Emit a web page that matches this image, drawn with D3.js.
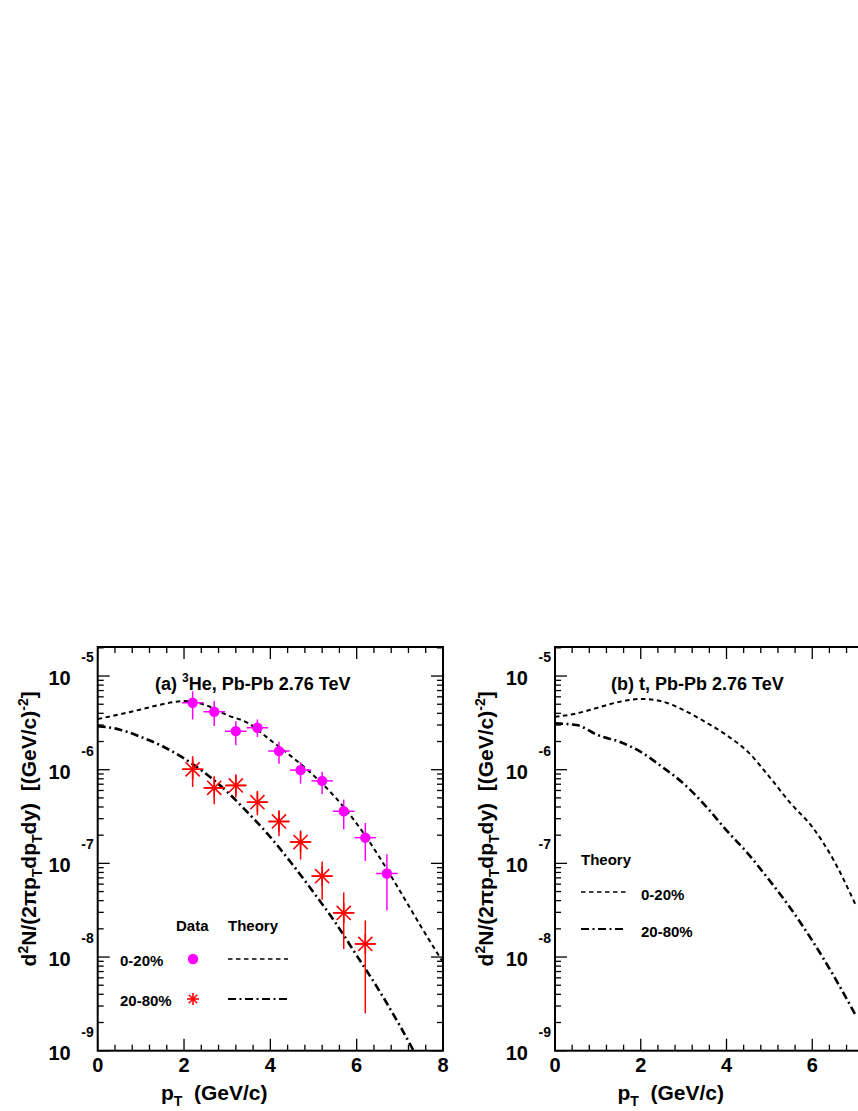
<!DOCTYPE html>
<html><head><meta charset="utf-8">
<script src="https://cdn.jsdelivr.net/npm/d3@7"></script>
<style>body{margin:0;background:#fff}svg{display:block}text{font-family:"Liberation Sans",Arial,sans-serif;font-weight:bold}</style>
</head><body>
<svg id="c" width="858" height="1111"></svg>
<script>
// Data (He-3, panel a)
const dataX = [2.2,2.7,3.2,3.7,4.2,4.7,5.2,5.7,6.2,6.7];
const central_y = [5.18e-6,4.15e-6,2.58e-6,2.8e-6,1.58e-6,9.9e-7,7.6e-7,3.6e-7,1.88e-7,7.8e-8];
const central_hi = [6.9e-6,5.4e-6,3.3e-6,3.44e-6,1.99e-6,1.21e-6,9.5e-7,4.8e-7,2.7e-7,1.25e-7];
const central_lo = [3.44e-6,2.92e-6,1.82e-6,2.24e-6,1.16e-6,7.1e-7,5.5e-7,2.31e-7,1.06e-7,3.14e-8];
const periX = [2.2,2.7,3.2,3.7,4.2,4.7,5.2,5.7,6.2];
const peri_y = [1.01e-6,6.4e-7,6.8e-7,4.5e-7,2.8e-7,1.69e-7,7.3e-8,2.96e-8,1.38e-8];
const peri_hi = [1.39e-6,8.5e-7,8.95e-7,5.94e-7,3.69e-7,2.25e-7,1.05e-7,4.9e-8,2.46e-8];
const peri_lo = [6.55e-7,4.28e-7,5.05e-7,3.26e-7,1.95e-7,1.10e-7,4.09e-8,1.22e-8,2.5e-9];
const binHalf = 0.25;
// Theory curves
const thX_a = [0,0.5,1,1.5,2,2.5,3,3.5,4,4.5,5,5.5,6,6.5,7,7.5,8];
const thA_central = [3.47e-6,3.9e-6,4.4e-6,5.0e-6,5.4e-6,4.9e-6,3.83e-6,3.12e-6,2.07e-6,1.37e-6,8.7e-7,5.1e-7,2.66e-7,1.22e-7,5.1e-8,2.08e-8,8.8e-9];
const thA_peri = [2.92e-6,2.69e-6,2.24e-6,1.78e-6,1.32e-6,9.1e-7,5.8e-7,3.4e-7,1.91e-7,9.9e-8,4.9e-8,2.36e-8,1.04e-8,4.55e-9,1.85e-9,7e-10,2.6e-10];
const thX_b = [0,0.5,1,1.5,2,2.5,3,3.5,4,4.5,5,5.5,6,6.5,7];
const thB_central = [3.67e-6,3.98e-6,4.6e-6,5.3e-6,5.7e-6,5.35e-6,4.33e-6,3.25e-6,2.34e-6,1.55e-6,8.4e-7,4.35e-7,2.45e-7,1.08e-7,3.7e-8];
const thB_peri = [3.12e-6,3.0e-6,2.34e-6,1.99e-6,1.55e-6,1.07e-6,7.1e-7,4.17e-7,2.25e-7,1.27e-7,6.6e-8,3.28e-8,1.5e-8,6.3e-9,2.45e-9];
const xTicks = [0,2,4,6,8];
const yDecades = [-9,-8,-7,-6,-5];

const svg = d3.select("#c");
const PT = 647, PB = 1050.7;
const y = d3.scaleLog().domain([1e-9, Math.pow(10,-4.69)]).range([PB, PT]);
const MAG = "#ff00ff", RED = "#ff0000";
const DASH = "4.5,3.5", DASHDOT = "8,3.5,2,3.5";

function panel(x0, x1, id, curves){
  const x = d3.scaleLinear().domain([0,8]).range([x0,x1]);
  const g = svg.append("g");
  const cp = "clip"+id;
  svg.append("clipPath").attr("id",cp).append("rect").attr("x",x0).attr("y",PT).attr("width",x1-x0).attr("height",PB-PT);
  const tg = g.append("g").attr("stroke","#000").attr("stroke-width",1.3);
  d3.range(0,8.001,0.4).forEach(v=>{
    const major = Math.abs(v/2-Math.round(v/2))<1e-6;
    const L = major?12:6;
    tg.append("line").attr("x1",x(v)).attr("x2",x(v)).attr("y1",PB).attr("y2",PB-L);
    tg.append("line").attr("x1",x(v)).attr("x2",x(v)).attr("y1",PT).attr("y2",PT+L);
  });
  yDecades.forEach(d=>{
    for(let m=1;m<=9;m++){
      const v = m*Math.pow(10,d);
      if(v>y.domain()[1]) continue;
      const L = m===1?12:6;
      tg.append("line").attr("x1",x0).attr("x2",x0+L).attr("y1",y(v)).attr("y2",y(v));
      tg.append("line").attr("x1",x1).attr("x2",x1-L).attr("y1",y(v)).attr("y2",y(v));
    }
    g.append("text").attr("x",x0-27).attr("y",y(Math.pow(10,d))+9).attr("text-anchor","end").attr("font-size",20).text("10");
    g.append("text").attr("x",x0-4).attr("y",y(Math.pow(10,d))-14).attr("text-anchor","end").attr("font-size",14).text(d);
  });
  xTicks.forEach(v=>{
    g.append("text").attr("x",x(v)).attr("y",1072).attr("text-anchor","middle").attr("font-size",20).text(v);
  });
  g.append("rect").attr("x",x0).attr("y",PT).attr("width",x1-x0).attr("height",PB-PT).attr("fill","none").attr("stroke","#000").attr("stroke-width",2);
  const xt = g.append("text").attr("x",x(2.7)).attr("y",1100).attr("font-size",21).attr("text-anchor","middle");
  xt.append("tspan").text("p");
  xt.append("tspan").attr("font-size",14).attr("dy",6).text("T");
  xt.append("tspan").attr("dy",-6).text("\u00a0 (GeV/c)");
  const yt = g.append("text").attr("transform",`translate(${x0-62},${(PT+PB)/2-20}) rotate(-90)`).attr("font-size",21).attr("text-anchor","middle");
  yt.append("tspan").text("d");
  yt.append("tspan").attr("font-size",14).attr("dy",-8).text("2");
  yt.append("tspan").attr("dy",8).text("N/(2\u03c0p");
  yt.append("tspan").attr("font-size",14).attr("dy",6).text("T");
  yt.append("tspan").attr("dy",-6).text("dp");
  yt.append("tspan").attr("font-size",14).attr("dy",6).text("T");
  yt.append("tspan").attr("dy",-6).text("dy)\u00a0\u00a0[(GeV/c)");
  yt.append("tspan").attr("font-size",14).attr("dy",-8).text("-2");
  yt.append("tspan").attr("dy",8).text("]");
  const line = d3.line().x(d=>x(d[0])).y(d=>y(d[1])).curve(d3.curveMonotoneX);
  const cg = g.append("g").attr("clip-path",`url(#${cp})`);
  curves.forEach(c=>{
    cg.append("path").attr("d",line(c.xs.map((v,i)=>[v,c.ys[i]]))).attr("fill","none").attr("stroke","#000")
      .attr("stroke-width",c.w).attr("stroke-dasharray",c.dash);
  });
  return {g, x, cg};
}

const A = panel(97.7, 443, "a", [
  {xs:thX_a, ys:thA_central, dash:DASH, w:2},
  {xs:thX_a, ys:thA_peri, dash:DASHDOT, w:2.6}
]);
const B = panel(555, 898, "b", [
  {xs:thX_b, ys:thB_central, dash:DASH, w:2},
  {xs:thX_b, ys:thB_peri, dash:DASHDOT, w:2.6}
]);

const ta = A.g.append("text").attr("x",155).attr("y",690).attr("font-size",18);
ta.append("tspan").text("(a) ");
ta.append("tspan").attr("font-size",12).attr("dy",-8).text("3");
ta.append("tspan").attr("dy",8).text("He, Pb-Pb 2.76 TeV");
B.g.append("text").attr("x",611).attr("y",690).attr("font-size",18).text("(b) t, Pb-Pb 2.76 TeV");

function star(g, cx, cy, r, col){
  for(let k=0;k<4;k++){
    const a = k*Math.PI/4;
    g.append("line").attr("x1",cx-r*Math.cos(a)).attr("x2",cx+r*Math.cos(a))
      .attr("y1",cy-r*Math.sin(a)).attr("y2",cy+r*Math.sin(a)).attr("stroke",col).attr("stroke-width",1.6);
  }
}
const dg = A.g.append("g").attr("clip-path","url(#clipa)");
periX.forEach((v,i)=>{
  dg.append("line").attr("x1",A.x(v)).attr("x2",A.x(v)).attr("y1",y(peri_lo[i])).attr("y2",y(peri_hi[i])).attr("stroke",RED).attr("stroke-width",1.5);
  dg.append("line").attr("x1",A.x(v-binHalf)).attr("x2",A.x(v+binHalf)).attr("y1",y(peri_y[i])).attr("y2",y(peri_y[i])).attr("stroke",RED).attr("stroke-width",1.5);
  star(dg, A.x(v), y(peri_y[i]), 10, RED);
});
dataX.forEach((v,i)=>{
  dg.append("line").attr("x1",A.x(v)).attr("x2",A.x(v)).attr("y1",y(central_lo[i])).attr("y2",y(central_hi[i])).attr("stroke",MAG).attr("stroke-width",1.5);
  dg.append("line").attr("x1",A.x(v-binHalf)).attr("x2",A.x(v+binHalf)).attr("y1",y(central_y[i])).attr("y2",y(central_y[i])).attr("stroke",MAG).attr("stroke-width",1.5);
  dg.append("circle").attr("cx",A.x(v)).attr("cy",y(central_y[i])).attr("r",5.2).attr("fill",MAG);
});

const la = A.g;
la.append("text").attr("x",176).attr("y",931).attr("font-size",15).text("Data");
la.append("text").attr("x",228).attr("y",931).attr("font-size",15).text("Theory");
la.append("text").attr("x",120).attr("y",966).attr("font-size",15).text("0-20%");
la.append("text").attr("x",120).attr("y",1006).attr("font-size",15).text("20-80%");
la.append("circle").attr("cx",193).attr("cy",959).attr("r",5.2).attr("fill",MAG);
star(la,193,999,6,RED);
la.append("line").attr("x1",228).attr("x2",288).attr("y1",959).attr("y2",959).attr("stroke","#000").attr("stroke-width",1.5).attr("stroke-dasharray",DASH);
la.append("line").attr("x1",228).attr("x2",288).attr("y1",999).attr("y2",999).attr("stroke","#000").attr("stroke-width",1.8).attr("stroke-dasharray",DASHDOT);
const lb = B.g;
lb.append("text").attr("x",581).attr("y",865).attr("font-size",15).text("Theory");
lb.append("text").attr("x",641).attr("y",900).attr("font-size",15).text("0-20%");
lb.append("text").attr("x",641).attr("y",937).attr("font-size",15).text("20-80%");
lb.append("line").attr("x1",581).attr("x2",626).attr("y1",892).attr("y2",892).attr("stroke","#000").attr("stroke-width",1.5).attr("stroke-dasharray",DASH);
lb.append("line").attr("x1",581).attr("x2",626).attr("y1",929).attr("y2",929).attr("stroke","#000").attr("stroke-width",1.8).attr("stroke-dasharray",DASHDOT);
</script>
</body></html>
